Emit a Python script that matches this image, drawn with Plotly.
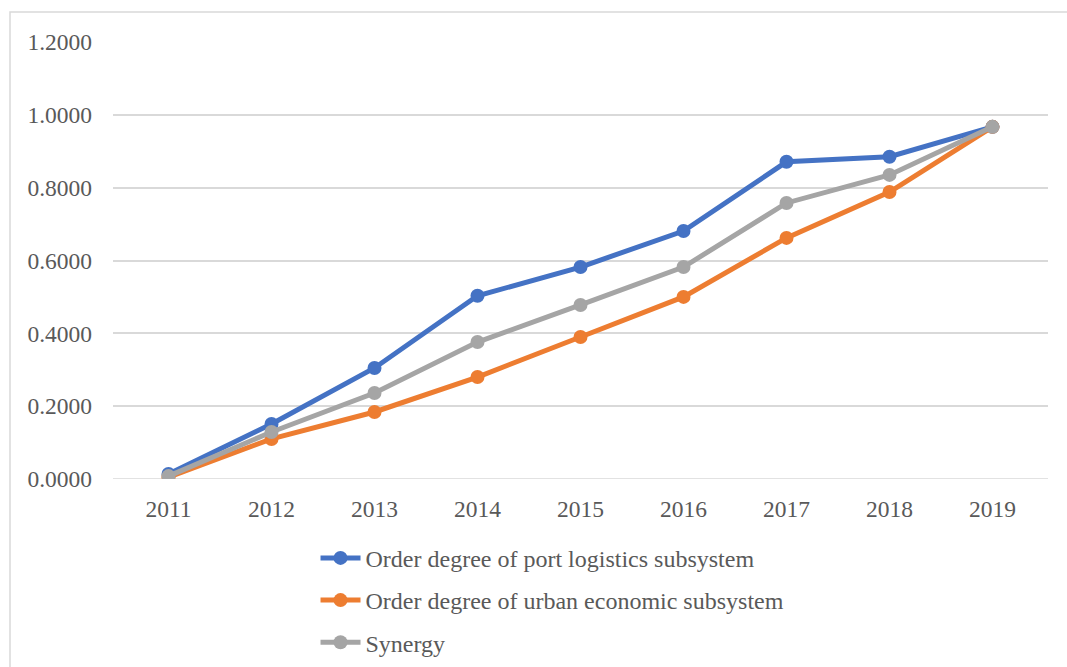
import plotly.graph_objects as go

years = ["2011", "2012", "2013", "2014", "2015", "2016", "2017", "2018", "2019"]
port_logistics = [0.014, 0.151, 0.305, 0.503, 0.582, 0.681, 0.871, 0.885, 0.967]
urban_economic = [0.005, 0.110, 0.184, 0.280, 0.390, 0.500, 0.662, 0.788, 0.967]
synergy = [0.008, 0.129, 0.236, 0.376, 0.478, 0.582, 0.758, 0.835, 0.967]

series_names = [
    "Order degree of port logistics subsystem",
    "Order degree of urban economic subsystem",
    "Synergy",
]
colors = ["#4472C4", "#ED7D31", "#A5A5A5"]

y_ticks = [0.0, 0.2, 0.4, 0.6, 0.8, 1.0, 1.2]
y_tick_labels = ["0.0000", "0.2000", "0.4000", "0.6000", "0.8000", "1.0000", "1.2000"]

font_family = "'Liberation Serif', 'DejaVu Serif', serif"
text_color = "#595959"

fig = go.Figure()
for i, (name, vals, col) in enumerate(zip(series_names, [port_logistics, urban_economic, synergy], colors)):
    fig.add_trace(go.Scatter(
        x=years, y=vals, name=name, mode="lines+markers",
        line=dict(color=col, width=5),
        marker=dict(color=col, size=14),
        legendgroup=f"g{i}",
    ))

fig.update_layout(
    width=1067, height=667,
    margin=dict(l=113, r=19, t=42, b=188, autoexpand=False),
    paper_bgcolor="white", plot_bgcolor="white",
    font=dict(family=font_family, size=23.5, color=text_color),
    showlegend=True,
    legend=dict(
        orientation="v", x=0.2166, xanchor="left", y=-0.13, yanchor="top",
        font=dict(family=font_family, size=24, color=text_color),
        tracegroupgap=8, itemwidth=40,
        bgcolor="rgba(0,0,0,0)",
    ),
    xaxis=dict(
        type="category", showgrid=False, zeroline=False, showline=False,
        ticks="", ticklabelstandoff=13,
        tickfont=dict(family=font_family, size=23.5, color=text_color),
    ),
    yaxis=dict(
        range=[0, 1.2], tickvals=y_ticks, ticktext=y_tick_labels,
        showgrid=True, gridcolor="#D9D9D9", gridwidth=1.5,
        zeroline=False, showline=False, ticks="",
        ticklabelstandoff=20,
        tickfont=dict(family=font_family, size=23.5, color=text_color),
    ),
    shapes=[
        dict(type="rect", xref="paper", yref="paper",
             x0=(10 - 113) / 935, x1=1.2, y0=-0.6, y1=(479 - 12) / 437,
             line=dict(color="#D9D9D9", width=1.5), fillcolor="rgba(0,0,0,0)",
             layer="below"),
        dict(type="line", xref="paper", yref="y", x0=0, x1=1, y0=0, y1=0,
             line=dict(color="#D9D9D9", width=1.5), layer="below"),
    ],
)

fig.write_html("out.html")
